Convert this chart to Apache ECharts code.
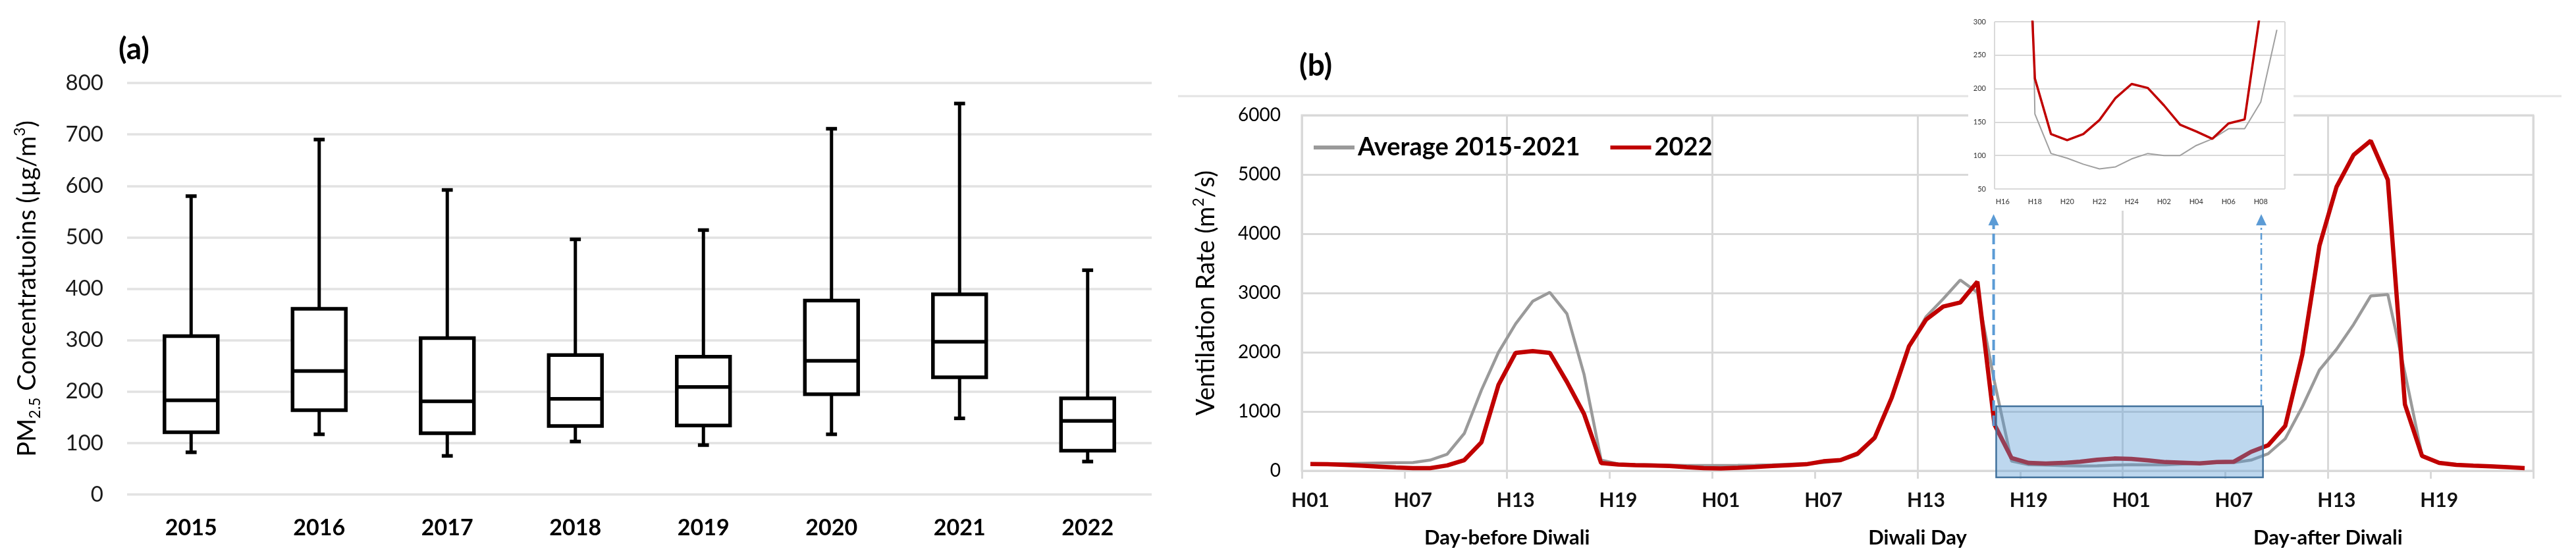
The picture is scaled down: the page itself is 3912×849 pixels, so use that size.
<!DOCTYPE html>
<html><head><meta charset="utf-8">
<script src="https://cdn.jsdelivr.net/npm/echarts@6/dist/echarts.min.js"></script>
<style>html,body{margin:0;padding:0;background:#fff}#c{width:3912px;height:849px}</style>
</head><body><div id="c"></div>
<script>
// ---------- Panel (a): PM2.5 box plots ----------
const years = ['2015','2016','2017','2018','2019','2020','2021','2022'];
const pmMin    = [82, 117, 75, 103, 96, 117, 148, 64];
const pmQ1     = [121, 164, 119, 133, 134, 195, 228, 85];
const pmMedian = [183, 240, 181, 186, 209, 260, 297, 143];
const pmQ3     = [308, 361, 304, 271, 268, 377, 389, 187];
const pmMax    = [580, 690, 592, 496, 514, 711, 760, 436];
const pmTicks  = [0, 800, 100]; // min, max, interval

// ---------- Panel (b): ventilation rate ----------
const dayLabels = ['Day-before Diwali', 'Diwali Day', 'Day-after Diwali'];
const hoursOfDay = ['H01','H02','H03','H04','H05','H06','H07','H08','H09','H10','H11','H12',
                    'H13','H14','H15','H16','H17','H18','H19','H20','H21','H22','H23','H24'];
const hourLabels = hoursOfDay.concat(hoursOfDay, hoursOfDay);
const avgVent = [
  120,120,120,125,130,135,140,180,280,630,1360,2000,2480,2860,3010,2650,1630,180,115,105,100,95,90,88,
  90,92,95,100,110,120,140,170,270,540,1250,2100,2600,2900,3220,3010,1500,162,103,96,87,80,83,95,
  103,100,100,115,125,140,140,180,288,540,1080,1700,2050,2470,2950,2975,1650,260,135,105,90,80,65,50
];
const vent2022 = [
  115,110,100,85,70,55,45,45,90,180,480,1450,1990,2020,1990,1500,960,130,105,95,90,80,60,45,
  40,50,65,80,95,110,160,180,290,560,1240,2100,2550,2770,2840,3190,780,215,132,123,132,153,186,207,
  201,175,146,136,125,148,154,320,430,756,1960,3795,4790,5330,5570,4910,1120,250,133,100,85,75,60,44
];
const ventTicks = [0, 6000, 1000];
// inset: zoom on Diwali H16 .. Day-after H09
const insetFrom = 39, insetTo = 57;
const insetTicks = [50, 300, 50];
// highlighted night window (hour-index units on the main axis, rate units)
const highlightHours = [40.6, 56.2];
const highlightRate = [-110, 1090];
const arrowHours = [40.45, 56.1];
const arrowTipRate = 4330;

const FONT = 'Lato, "Noto Sans", "DejaVu Sans", sans-serif';

function renderBox(params, api) {
  const i = api.value(0);
  const pMin = api.coord([i, api.value(1)]);
  const pQ1 = api.coord([i, api.value(2)]);
  const pMed = api.coord([i, api.value(3)]);
  const pQ3 = api.coord([i, api.value(4)]);
  const pMax = api.coord([i, api.value(5)]);
  const band = api.size([1, 0])[0];
  const hw = band * 0.208, cw = band * 0.043;
  const cx = pMed[0];
  const st = {stroke: '#000', lineWidth: 5, fill: null};
  return {type: 'group', children: [
    {type: 'line', shape: {x1: cx, y1: pQ3[1], x2: cx, y2: pMax[1]}, style: st},
    {type: 'line', shape: {x1: cx - cw, y1: pMax[1], x2: cx + cw, y2: pMax[1]}, style: {stroke:'#000', lineWidth: 5.5}},
    {type: 'line', shape: {x1: cx, y1: pQ1[1], x2: cx, y2: pMin[1]}, style: st},
    {type: 'line', shape: {x1: cx - cw, y1: pMin[1], x2: cx + cw, y2: pMin[1]}, style: {stroke:'#000', lineWidth: 5.5}},
    {type: 'rect', shape: {x: cx - hw, y: pQ3[1], width: 2 * hw, height: pQ1[1] - pQ3[1]},
      style: {stroke: '#000', lineWidth: 5.5, fill: '#fff'}},
    {type: 'line', shape: {x1: cx - hw, y1: pMed[1], x2: cx + hw, y2: pMed[1]}, style: {stroke: '#000', lineWidth: 5.5}}
  ]};
}

function renderHighlight(params, api) {
  const tl = api.coord([highlightHours[0], highlightRate[1]]);
  const br = api.coord([highlightHours[1], highlightRate[0]]);
  const baseL = api.coord([arrowHours[0], highlightRate[1]]);
  const baseR = api.coord([arrowHours[1], highlightRate[1]]);
  const tipL = api.coord([arrowHours[0], arrowTipRate]);
  const tipR = api.coord([arrowHours[1], arrowTipRate]);
  const blue = '#5B9BD5';
  const head = (t) => ({type: 'polygon', shape: {points: [[t[0], t[1]], [t[0] - 8, t[1] + 17], [t[0] + 8, t[1] + 17]]},
    style: {fill: blue}});
  return {type: 'group', children: [
    {type: 'rect', shape: {x: tl[0], y: tl[1], width: br[0] - tl[0], height: br[1] - tl[1]},
      style: {fill: 'rgba(91,155,213,0.4)', stroke: '#41719C', lineWidth: 2.5}},
    {type: 'line', shape: {x1: baseL[0], y1: baseL[1] + 30, x2: tipL[0], y2: tipL[1] + 14},
      style: {stroke: blue, lineWidth: 4, lineDash: [16, 7]}},
    {type: 'line', shape: {x1: baseR[0], y1: baseR[1], x2: tipR[0], y2: tipR[1] + 14},
      style: {stroke: blue, lineWidth: 2.5, lineDash: [10, 5, 3, 5]}},
    head(tipL), head(tipR)
  ]};
}

const chart = echarts.init(document.getElementById('c'), null, {renderer: 'canvas', width: 3912, height: 849});
const gridColor = '#d9d9d9';
const plain = (v) => String(v);

const option = {
  animation: false,
  backgroundColor: '#fff',
  textStyle: {fontFamily: FONT},
  grid: [
    {left: 193, top: 126, width: 1556, height: 625},
    {left: 1977, top: 175, width: 1870, height: 540, show: true, borderColor: gridColor, borderWidth: 3,
      backgroundColor: 'transparent'},
    {left: 3029, top: 33, width: 441, height: 254}
  ],
  legend: {
    left: 1990, top: 200, itemWidth: 62, itemHeight: 6, itemGap: 46,
    data: [
      {name: 'Average 2015-2021', icon: 'rect'},
      {name: '2022', icon: 'rect'}
    ],
    textStyle: {fontSize: 38, fontWeight: 'bold', color: '#000', fontFamily: FONT}
  },
  graphic: [
    {type: 'line', z: 1, shape: {x1: 1789, y1: 146, x2: 3890, y2: 146}, style: {stroke: '#e3e3e3', lineWidth: 3}},
    {type: 'rect', z: 5, shape: {x: 2989, y: 0, width: 494, height: 320}, style: {fill: '#fff'}},
    {type: 'text', z: 20, left: 180, top: 52, style: {text: '(a)', font: 'bold 46px ' + FONT, fill: '#000'}},
    {type: 'text', z: 20, left: 1973, top: 77, style: {text: '(b)', font: 'bold 46px ' + FONT, fill: '#000'}}
  ],
  xAxis: [
    {gridIndex: 0, type: 'category', data: years, boundaryGap: true,
      axisLine: {show: false}, axisTick: {show: false}, splitLine: {show: false},
      axisLabel: {fontSize: 34, fontWeight: 'bold', color: '#000', margin: 34, fontFamily: FONT}},
    {gridIndex: 1, type: 'category', data: hourLabels, boundaryGap: true,
      axisLine: {show: false},
      axisTick: {show: true, interval: (i) => i % 6 === 0, length: 12, lineStyle: {color: gridColor, width: 3}},
      splitLine: {show: true, interval: (i) => i % 12 === 0, lineStyle: {color: gridColor, width: 3}},
      axisLabel: {interval: 5, fontSize: 30, fontWeight: 'bold', color: '#111', margin: 30, fontFamily: FONT}},
    {gridIndex: 1, type: 'category', data: dayLabels, boundaryGap: true, position: 'bottom',
      axisLine: {show: false}, axisTick: {show: false}, splitLine: {show: false},
      axisLabel: {fontSize: 31, fontWeight: 'bold', color: '#000', margin: 86, fontFamily: FONT}},
    {gridIndex: 1, type: 'value', min: 0, max: hourLabels.length, show: false},
    {gridIndex: 2, type: 'category', data: hourLabels.slice(insetFrom, insetTo), z: 10,
      boundaryGap: true, axisLine: {show: false}, axisTick: {show: false},
      splitLine: {show: true, interval: (i) => i === 12, lineStyle: {color: gridColor, width: 2}},
      axisLabel: {interval: 1, fontSize: 11, color: '#333', margin: 14, fontFamily: FONT}}
  ],
  yAxis: [
    {gridIndex: 0, type: 'value', min: pmTicks[0], max: pmTicks[1], interval: pmTicks[2],
      axisLine: {show: false}, axisTick: {show: false},
      splitLine: {lineStyle: {color: '#e2e2e2', width: 3.5}},
      axisLabel: {fontSize: 33, color: '#1a1a1a', margin: 36, fontFamily: FONT, formatter: plain},
      name: '{t|PM}{s|2.5}{t| Concentratuoins (µg/m}{p|3}{t|)}',
      nameLocation: 'middle', nameRotate: 90, nameGap: 128,
      nameTextStyle: {fontSize: 38, color: '#000', fontFamily: FONT,
        rich: {
          t: {fontSize: 38, lineHeight: 46, fontFamily: FONT, color: '#000'},
          s: {fontSize: 23, lineHeight: 23, verticalAlign: 'bottom', fontFamily: FONT, color: '#000'},
          p: {fontSize: 23, lineHeight: 23, verticalAlign: 'top', fontFamily: FONT, color: '#000'}
        }}},
    {gridIndex: 1, type: 'value', min: ventTicks[0], max: ventTicks[1], interval: ventTicks[2],
      axisLine: {show: false}, axisTick: {show: false},
      splitLine: {lineStyle: {color: gridColor, width: 3}},
      axisLabel: {fontSize: 28, color: '#000', margin: 32, fontFamily: FONT, formatter: plain},
      name: '{t|Ventilation Rate (m}{p|2}{t|/s)}',
      nameLocation: 'middle', nameRotate: 90, nameGap: 122,
      nameTextStyle: {fontSize: 38, color: '#000', fontFamily: FONT,
        rich: {
          t: {fontSize: 38, lineHeight: 46, fontFamily: FONT, color: '#000'},
          p: {fontSize: 23, lineHeight: 23, verticalAlign: 'top', fontFamily: FONT, color: '#000'}
        }}},
    {gridIndex: 2, type: 'value', min: insetTicks[0], max: insetTicks[1], interval: insetTicks[2], z: 10,
      axisLine: {show: false}, axisTick: {show: false},
      splitLine: {lineStyle: {color: gridColor, width: 2}},
      axisLabel: {fontSize: 11, color: '#333', margin: 13, fontFamily: FONT, formatter: plain}}
  ],
  series: [
    {type: 'custom', name: 'PM2.5', xAxisIndex: 0, yAxisIndex: 0, renderItem: renderBox,
      encode: {x: 0, y: [1, 2, 3, 4, 5]},
      data: years.map((y, i) => [i, pmMin[i], pmQ1[i], pmMedian[i], pmQ3[i], pmMax[i]])},
    {type: 'line', name: 'Average 2015-2021', xAxisIndex: 1, yAxisIndex: 1, data: avgVent,
      symbol: 'none', z: 2, lineStyle: {color: '#9a9a9a', width: 4.5}, itemStyle: {color: '#9a9a9a'}},
    {type: 'line', name: '2022', xAxisIndex: 1, yAxisIndex: 1, data: vent2022,
      symbol: 'none', z: 3, lineStyle: {color: '#C00000', width: 6.5}, itemStyle: {color: '#C00000'}},
    {type: 'custom', name: 'highlight', xAxisIndex: 3, yAxisIndex: 1, renderItem: renderHighlight,
      clip: false, z: 4, silent: true, data: [[highlightHours[0], highlightRate[0]]]},
    {type: 'line', name: 'inset avg', xAxisIndex: 4, yAxisIndex: 2, data: avgVent.slice(insetFrom, insetTo),
      symbol: 'none', z: 11, lineStyle: {color: '#a0a0a0', width: 2}},
    {type: 'line', name: 'inset 2022', xAxisIndex: 4, yAxisIndex: 2, data: vent2022.slice(insetFrom, insetTo),
      symbol: 'none', z: 12, lineStyle: {color: '#C00000', width: 3.5}}
  ]
};
chart.setOption(option);
</script>
</body></html>
